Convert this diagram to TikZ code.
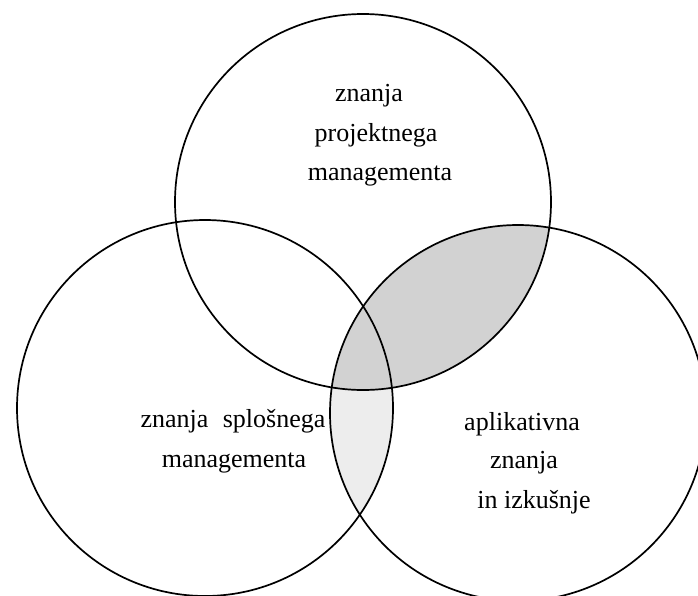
\documentclass[tikz,border=0pt]{standalone}
\usepackage{fontspec}
\setmainfont{Liberation Serif}
\begin{document}
\begin{tikzpicture}[x=1pt,y=-1pt,
  circ/.style={draw=black,line width=1.7pt},
  lbl/.style={font=\fontsize{26}{30}\selectfont, anchor=base, inner sep=0pt}]
\useasboundingbox (0,0) rectangle (698,595);
\clip (0,0) rectangle (698,595);
\coordinate (ctop) at (363,202);
\coordinate (cleft) at (205,408);
\coordinate (cright) at (518,413);
\begin{scope}
  \clip (cright) circle[radius=188];
  \fill[gray!14] (cleft) circle[radius=188];
  \fill[gray!35] (ctop) circle[radius=188];
\end{scope}
\draw[circ] (ctop) circle[radius=188];
\draw[circ] (cleft) circle[radius=188];
\draw[circ] (cright) circle[radius=188];
\node[lbl] (t1) at (369,101) {znanja};
\node[lbl] (t2) at (376,141) {projektnega};
\node[lbl] (t3) at (380,180) {managementa};
\node[lbl] (l1) at (233,427) {znanja\hspace{0.3em} splošnega};
\node[lbl] (l2) at (234,467) {managementa};
\node[lbl] (r1) at (522,430) {aplikativna};
\node[lbl] (r2) at (524,468) {znanja};
\node[lbl] (r3) at (534,508) {in izkušnje};
\end{tikzpicture}
\end{document}
